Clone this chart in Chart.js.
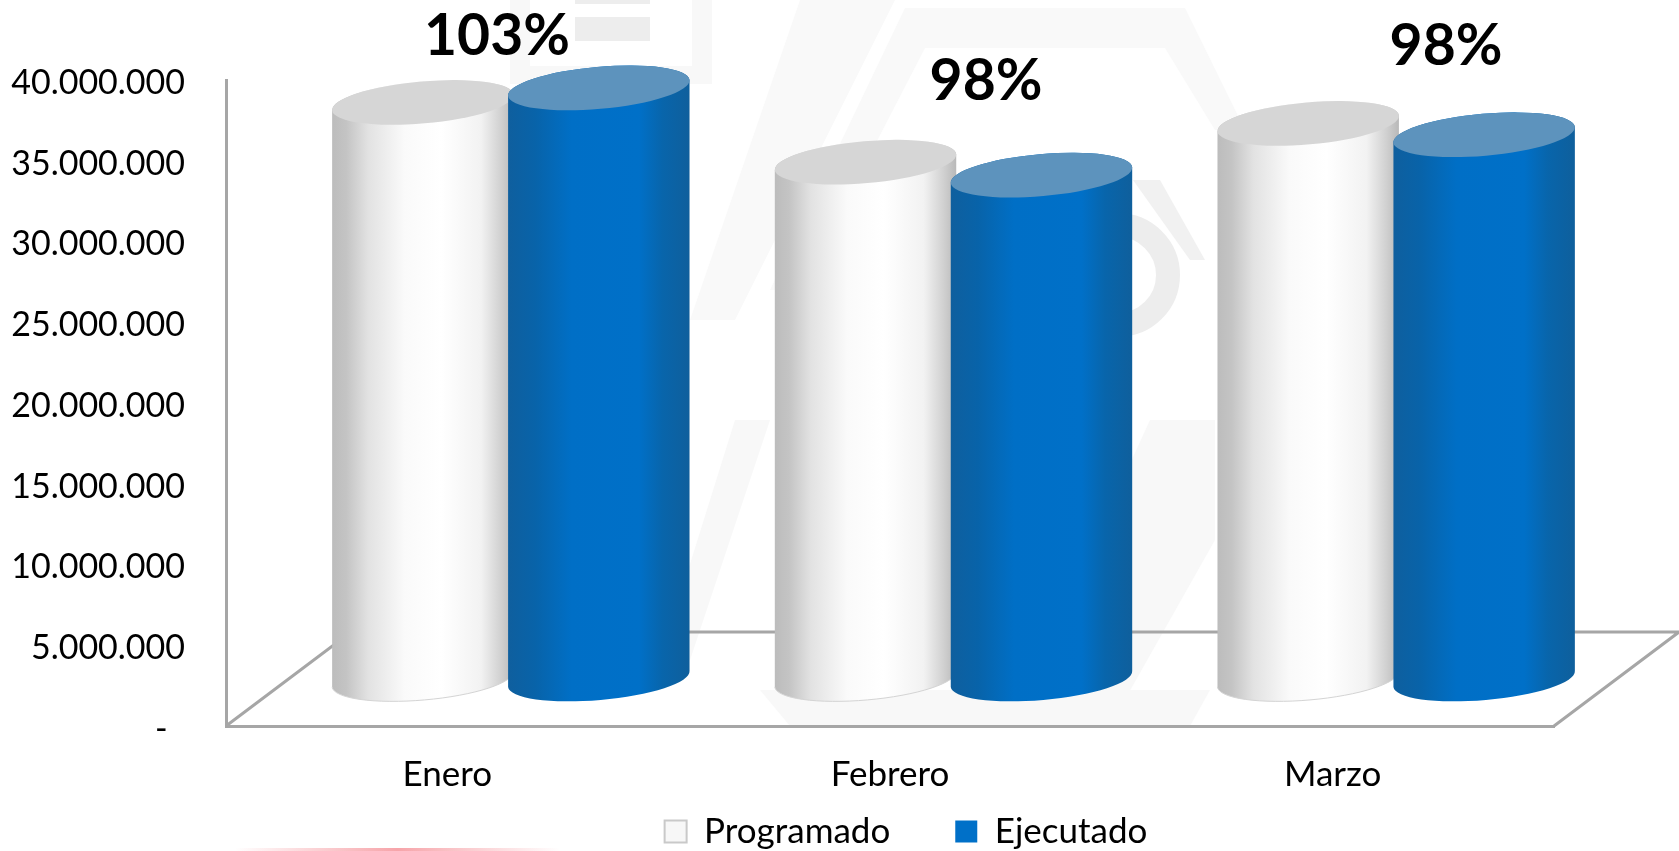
<!DOCTYPE html>
<html>
<head>
<meta charset="utf-8">
<style>
  html, body { margin: 0; padding: 0; background: #fff; }
  canvas { display: block; }
</style>
<script src="https://cdn.jsdelivr.net/npm/chart.js@4"></script>
</head>
<body>
<canvas id="myChart" width="1679" height="851"></canvas>
<script>
const categories = ["Enero", "Febrero", "Marzo"];
const programado = [35700000, 32000000, 34400000];
const ejecutado = [36600000, 31200000, 33700000];
const percentLabels = ["103%", "98%", "98%"];

const fontName = "Lato, 'Noto Sans', sans-serif";

// the floor is a parallelogram, bars stand halfway into it
const depthX = 125;
const depthY = 94;

const whiteStops = [[0, "#bcbcbc"], [0.08, "#c4c4c4"], [0.2, "#e2e2e2"], [0.4, "#fafafa"], [0.6, "#ffffff"], [0.82, "#f2f2f2"], [0.93, "#d0d0d0"], [1, "#b8b8b8"]];
const blueStops = [[0, "#0f5f9e"], [0.15, "#0863a9"], [0.35, "#006fc6"], [0.72, "#0070c8"], [0.85, "#0865ab"], [1, "#0f5f9c"]];

const poly = (ctx, color, pts) => {
  ctx.fillStyle = color;
  ctx.beginPath();
  pts.forEach((p, i) => (i ? ctx.lineTo(p[0], p[1]) : ctx.moveTo(p[0], p[1])));
  ctx.closePath();
  ctx.fill();
};

// faint picture that sits behind the original chart
const drawWatermark = (ctx) => {
  poly(ctx, "#f8f8f8", [[510, 0], [712, 0], [712, 84], [510, 84]]);
  poly(ctx, "#ffffff", [[530, 0], [692, 0], [692, 66], [530, 66]]);
  poly(ctx, "#ededed", [[575, 0], [650, 0], [650, 4], [575, 4]]);
  poly(ctx, "#ededed", [[575, 17], [650, 17], [650, 41], [575, 41]]);
  poly(ctx, "#f9f9f9", [[800, 0], [895, 0], [735, 320], [690, 320]]);
  poly(ctx, "#f9f9f9", [[905, 8], [1185, 8], [1245, 130], [1215, 130], [1165, 48], [925, 48], [800, 290], [770, 290]]);
  poly(ctx, "#f1f1f1", [[1133, 180], [1160, 180], [1205, 260], [1190, 260]]);
  ctx.strokeStyle = "#ededed";
  ctx.lineWidth = 24;
  ctx.beginPath();
  ctx.arc(1118, 275, 50, 0, Math.PI * 2);
  ctx.stroke();
  poly(ctx, "#f8f8f8", [[735, 420], [770, 420], [690, 660], [660, 660]]);
  poly(ctx, "#f8f8f8", [[1150, 420], [1215, 420], [1215, 540], [1110, 726], [1010, 726]]);
  poly(ctx, "#f8f8f8", [[760, 690], [1210, 690], [1190, 726], [790, 726]]);
  const red = ctx.createLinearGradient(235, 0, 560, 0);
  red.addColorStop(0, "rgba(240,90,100,0)");
  red.addColorStop(0.5, "rgba(240,90,100,.55)");
  red.addColorStop(1, "rgba(240,90,100,0)");
  ctx.fillStyle = red;
  ctx.fillRect(235, 848, 325, 3);
};

const drawCylinder = (ctx, bar, stops, capColor, rimColor) => {
  const { x, y, base, width } = bar.getProps(["x", "y", "base", "width"], true);
  const rx = width / 2;
  const ry = 21;
  const tilt = (-5 * Math.PI) / 180;
  const gradient = ctx.createLinearGradient(x - rx, 0, x + rx, 0);
  stops.forEach((s) => gradient.addColorStop(s[0], s[1]));

  ctx.beginPath();
  ctx.ellipse(x, base, rx, ry, tilt, Math.PI, 0, true);
  ctx.ellipse(x, y, rx, ry, tilt, 0, Math.PI, true);
  ctx.closePath();
  ctx.fillStyle = gradient;
  ctx.fill();

  if (rimColor) {
    ctx.beginPath();
    ctx.ellipse(x, base, rx, ry, tilt, Math.PI, 0, true);
    ctx.strokeStyle = rimColor;
    ctx.lineWidth = 1;
    ctx.stroke();
  }

  ctx.beginPath();
  ctx.ellipse(x, y, rx, ry, tilt, 0, Math.PI * 2);
  ctx.fillStyle = capColor;
  ctx.fill();
};

const cylinders = {
  id: "cylinders",
  afterLayout(chart) {
    const legend = chart.legend;
    legend.left += 129;
    legend.right += 129;
    legend.top = 749;
  },
  beforeDraw(chart) {
    const ctx = chart.ctx;
    ctx.save();
    ctx.fillStyle = "#ffffff";
    ctx.fillRect(0, 0, chart.width, chart.height);
    drawWatermark(ctx);
    ctx.restore();
  },
  beforeDatasetsDraw(chart) {
    const { ctx, chartArea: a } = chart;
    ctx.save();
    ctx.strokeStyle = "#a6a6a6";
    ctx.lineWidth = 3;
    ctx.beginPath();
    ctx.moveTo(a.left, a.bottom);
    ctx.lineTo(a.left + depthX, a.bottom - depthY);
    ctx.lineTo(a.right + depthX, a.bottom - depthY);
    ctx.lineTo(a.right, a.bottom);
    ctx.stroke();

    // Chart.js paints datasets last to first, blue has to end up over white
    ctx.translate(depthX / 2 + 1, -depthY / 2);
    chart.getDatasetMeta(0).data.forEach((bar) => drawCylinder(ctx, bar, whiteStops, "#d6d6d6", "#d4d4d4"));
    chart.getDatasetMeta(1).data.forEach((bar) => drawCylinder(ctx, bar, blueStops, "#5d93bd", null));
    ctx.restore();
  },
  beforeDatasetDraw() {
    return false;
  },
  afterDraw(chart) {
    const ctx = chart.ctx;
    const spots = [[497, 37], [986, 82], [1446, 47]];
    ctx.save();
    ctx.fillStyle = "#000";
    ctx.font = `bold 57px ${fontName}`;
    ctx.textAlign = "center";
    ctx.textBaseline = "middle";
    percentLabels.forEach((t, i) => ctx.fillText(t, spots[i][0], spots[i][1]));
    ctx.restore();
  },
};

const ctx = document.getElementById("myChart").getContext("2d");
const myChart = new Chart(ctx, {
  type: "bar",
  data: {
    labels: categories,
    datasets: [
      { label: "Programado", data: programado, backgroundColor: "#f7f7f7", borderColor: "#c9c9c9", borderWidth: 2 },
      { label: "Ejecutado", data: ejecutado, backgroundColor: "#0070c8", borderColor: "#0070c8", borderWidth: 0 },
    ],
  },
  options: {
    responsive: false,
    animation: false,
    // negative bottom: the legend box is tall because of its item padding, it may overlap the axis box
    layout: { padding: { top: 80, right: 125, bottom: -110, left: 0 } },
    categoryPercentage: 0.795,
    barPercentage: 1.035,
    scales: {
      x: {
        grid: { display: false },
        border: { color: "#a6a6a6", width: 3 },
        ticks: { color: "#000", font: { family: fontName, size: 35 }, padding: 20, maxRotation: 0 },
        afterFit: (s) => { s.height = 125; },
      },
      y: {
        min: 0,
        max: 40000000,
        grid: { display: false },
        border: { color: "#a6a6a6", width: 3 },
        ticks: {
          stepSize: 5000000,
          color: "#000",
          // two lines with a tiny line height push the text down a little
          font: { family: fontName, size: 34, lineHeight: "6px" },
          padding: 33,
          callback: (v) => ["", v === 0 ? "-  " : String(v).replace(/\B(?=(\d{3})+$)/g, ".")],
        },
        afterFit: (s) => { s.width = 226; },
      },
    },
    plugins: {
      tooltip: { enabled: false },
      legend: {
        position: "bottom",
        labels: { boxWidth: 22, boxHeight: 22, padding: 65, color: "#000", font: { family: fontName, size: 35 } },
      },
    },
  },
  plugins: [cylinders],
});
</script>
</body>
</html>
